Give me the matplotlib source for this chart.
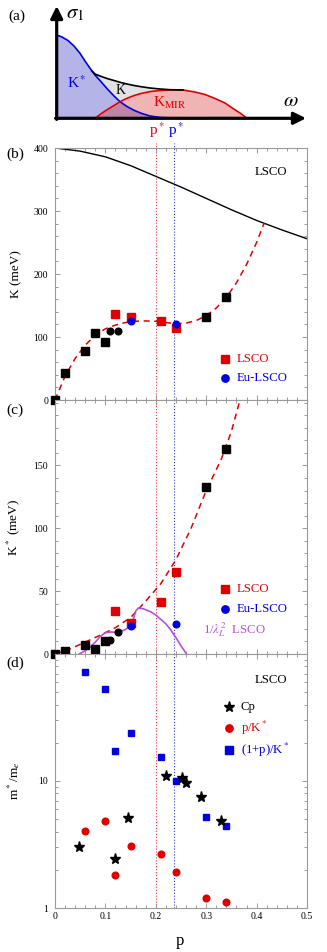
import numpy as np
import matplotlib
matplotlib.use("Agg")
import matplotlib.pyplot as plt
from matplotlib.ticker import MultipleLocator, LogLocator, NullFormatter, FixedLocator

plt.rcParams["font.family"] = "serif"
plt.rcParams["font.serif"] = ["Liberation Serif", "DejaVu Serif"]
plt.rcParams["mathtext.fontset"] = "stix"

RED = "#e00000"
BLUE = "#0000e0"
VIOLET = "#b84fd6"
LEG = 9.2

# ---- panel (a): schematic (pixel units) ----
sk_x = [56.7, 62, 68, 74, 80, 86, 92, 95, 100, 107, 114, 120, 127, 134, 141,
        150, 160, 170, 183, 195, 205, 215, 225, 233, 240, 247]
sk_blue = [35, 37, 40.5, 46, 53.3, 62.5, 71, 75, 80.5, 88.6, 96, 101.7, 106.5,
           110.3, 113.2, 116, 117.4, 118, 118.3, 118.3, 118.3, 118.3, 118.3,
           118.3, 118.3, 118.3]
nan = np.nan
sk_red = [nan, nan, nan, nan, nan, nan, nan, 118.3, 114.5, 109.8, 105.5, 101.7,
          98.3, 95.6, 93.5, 91.6, 90.5, 90, 90, 92, 94.5, 98.5, 103, 108.5,
          113, 118.3]
sk_black = [nan, nan, nan, nan, nan, nan, 71, 74, 76, 78.5, 80.5, 82.3, 84,
            85.5, 86.7, 88, 89, 89.7, 90, nan, nan, nan, nan, nan, nan, nan]

# ---- panel (b): K ----
b_line_p = [0, 0.05, 0.10, 0.15, 0.20, 0.25, 0.30, 0.35, 0.40, 0.45, 0.50]
b_line_k = [400, 395, 386, 372, 355, 338, 320, 302, 285, 270, 256]
b_fit_p = [0, 0.02, 0.04, 0.06, 0.08, 0.10, 0.12, 0.14, 0.16, 0.18, 0.20, 0.22,
           0.24, 0.26, 0.28, 0.30, 0.32, 0.34, 0.36, 0.38, 0.40, 0.415]
b_fit_k = [0, 38, 66, 87, 103, 113, 119, 123, 125, 125.5, 125, 123, 121, 122,
           126, 134, 146, 163, 186, 215, 250, 281]
b_sq_p = [0, 0.02, 0.06, 0.08, 0.10, 0.30, 0.34]
b_sq_k = [0, 43, 77, 107, 92, 132, 163]
b_ci_p = [0.11, 0.125]
b_ci_k = [110, 109]
b_lsco_p = [0.12, 0.15, 0.21, 0.24]
b_lsco_k = [136, 131, 126, 114]
b_eu_p = [0.15, 0.24]
b_eu_k = [125, 121]

# ---- panel (c): K* ----
c_fit_p = [0, 0.03, 0.06, 0.09, 0.12, 0.15, 0.18, 0.21, 0.24, 0.27, 0.30, 0.33,
           0.35, 0.367]
c_fit_k = [0, 4, 9.5, 15, 21, 29, 42, 56, 75, 100, 130, 155, 177, 202]
c_lam_p = [0.048, 0.06, 0.07, 0.08, 0.09, 0.10, 0.11, 0.12, 0.13, 0.14, 0.15,
           0.155, 0.16, 0.165, 0.175, 0.19, 0.20, 0.21, 0.22, 0.23, 0.24, 0.25,
           0.261]
c_lam_k = [0, 2.5, 5.5, 9.5, 14, 17, 17.5, 17.3, 18, 19.5, 22, 27, 34, 36.5,
           36, 33.5, 31, 27.5, 24, 19, 13, 6.5, 0]
c_sq_p = [0, 0.02, 0.06, 0.08, 0.10, 0.30, 0.34]
c_sq_k = [0, 2, 7.4, 4, 10, 133, 163]
c_ci_p = [0.11, 0.125]
c_ci_k = [11.4, 17.7]
c_lsco_p = [0.12, 0.15, 0.21, 0.24]
c_lsco_k = [34.4, 25, 41, 65.5]
c_eu_p = [0.15, 0.24]
c_eu_k = [22, 23.5]

# ---- panel (d): m*/me ----
d_cp_p = [0.048, 0.12, 0.145, 0.22, 0.251, 0.26, 0.289, 0.329]
d_cp_m = [3.03, 2.42, 5.09, 10.96, 10.6, 9.58, 7.42, 4.81]
d_pk_p = [0.06, 0.10, 0.12, 0.15, 0.21, 0.24, 0.30, 0.34]
d_pk_m = [4.03, 4.81, 1.82, 3.07, 2.67, 1.93, 1.2, 1.11]
d_1pk_p = [0.06, 0.10, 0.12, 0.15, 0.21, 0.24, 0.30, 0.34]
d_1pk_m = [72, 53.4, 17.1, 23.8, 15.4, 10, 5.24, 4.4]

p_star_red = 0.20
p_star_blue = 0.236

W, H = 327, 952
fig = plt.figure(figsize=(W / 100, H / 100), dpi=100)


def px_axes(x0, y0, x1, y1):
    return fig.add_axes([x0 / W, 1 - y1 / H, (x1 - x0) / W, (y1 - y0) / H])


def style(ax):
    for s in ax.spines.values():
        s.set_color("#9a9a9a")
        s.set_linewidth(0.8)
    ax.tick_params(which="both", direction="in", top=True, right=True,
                   color="#8a8a8a", width=0.6, labelsize=7)
    ax.tick_params(which="major", length=3.5)
    ax.tick_params(which="minor", length=2)
    ax.tick_params(axis="x", pad=3)
    ax.tick_params(axis="y", pad=5)
    ax.set_xlim(0, 0.5)
    ax.xaxis.set_major_locator(MultipleLocator(0.1))
    ax.xaxis.set_minor_locator(MultipleLocator(0.02))


def pstar_lines(ax, ymax=1.0):
    ax.axvline(p_star_red, ymax=ymax, color=RED, ls=":", lw=0.8, alpha=0.8,
               clip_on=False, zorder=1)
    ax.axvline(p_star_blue, ymax=ymax, color=BLUE, ls=":", lw=0.8, alpha=0.8,
               clip_on=False, zorder=1)


# ---------------- (a) ----------------
axa = px_axes(0, 0, W, 135)
axa.set_xlim(0, W)
axa.set_ylim(135, 0)
axa.axis("off")
x = np.array(sk_x)
blue = np.array(sk_blue)
red = np.array(sk_red)
black = np.array(sk_black)
base = 118.3
axa.fill_between(x, blue, base, color="#4d4dcc", alpha=0.42, lw=0)
ok = ~np.isnan(red)
axa.fill_between(x[ok], red[ok], base, color="#d83030", alpha=0.36, lw=0)
okb = ~np.isnan(black)
axa.fill_between(x[okb], black[okb], np.fmin(blue[okb], red[okb]),
                 color="#e2e2e2", lw=0)
axa.plot(x[x <= 205], blue[x <= 205], color=BLUE, lw=1.2)
axa.plot(x[ok], red[ok], color=RED, lw=1.2)
axa.plot(x[okb], black[okb], color="black", lw=1.2)
arrow = dict(arrowstyle="-|>", lw=2.3, color="black", mutation_scale=18,
             shrinkA=0, shrinkB=0)
axa.annotate("", xy=(306, base), xytext=(55.6, base), arrowprops=arrow)
axa.annotate("", xy=(56.7, 6), xytext=(56.7, base + 1.1), arrowprops=arrow)
axa.text(17, 16, "(a)", fontsize=11, ha="center", va="center")
axa.text(66, 14, r"$\sigma_1$", fontsize=15, ha="left", va="center")
axa.text(291, 101, r"$\omega$", fontsize=15, ha="center", va="center")
axa.text(77, 83, r"K$^*$", fontsize=11, color=BLUE, ha="center", va="center")
axa.text(121, 90, "K", fontsize=10, color="black", ha="center", va="center")
axa.text(170, 103, r"K$_{\rm MIR}$", fontsize=11, color=RED, ha="center",
         va="center")

# ---------------- (b) ----------------
axb = px_axes(55, 148, 307, 400)
style(axb)
axb.set_ylim(0, 400)
axb.yaxis.set_major_locator(MultipleLocator(100))
axb.yaxis.set_minor_locator(MultipleLocator(20))
axb.tick_params(labelbottom=False)
pstar_lines(axb, ymax=1.02)
axb.plot(b_line_p, b_line_k, color="black", lw=1.0)
axb.plot(b_fit_p, b_fit_k, color=RED, lw=1.1, ls=(0, (4, 3)))
axb.plot(b_sq_p, b_sq_k, "s", color="black", ms=5.3, clip_on=False, zorder=5)
axb.plot(b_ci_p, b_ci_k, "o", color="black", ms=4.8, zorder=5)
axb.plot(b_lsco_p, b_lsco_k, "s", color=RED, ms=5.3, zorder=5)
axb.plot(b_eu_p, b_eu_k, "o", color=BLUE, ms=4.8, zorder=6)
axb.set_ylabel("K (meV)", fontsize=9.5)
axb.yaxis.set_label_coords(-0.13, 0.5)
axb.text(0.857, 0.906, "LSCO", transform=axb.transAxes, fontsize=LEG,
         ha="center", va="center")
axb.plot([0.675], [0.163], "s", color=RED, ms=5.3, transform=axb.transAxes)
axb.text(0.722, 0.163, "LSCO", transform=axb.transAxes, fontsize=LEG,
         color=RED, va="center")
axb.plot([0.675], [0.087], "o", color=BLUE, ms=5.3, transform=axb.transAxes)
axb.text(0.722, 0.087, "Eu-LSCO", transform=axb.transAxes, fontsize=LEG,
         color=BLUE, va="center")
axb.text(p_star_red + 0.003, 1.03, r"p$^*$", transform=axb.get_xaxis_transform(),
         color=RED, fontsize=11, ha="center", va="bottom")
axb.text(p_star_blue + 0.005, 1.03, r"p$^*$", transform=axb.get_xaxis_transform(),
         color=BLUE, fontsize=11, ha="center", va="bottom")

# ---------------- (c) ----------------
axc = px_axes(55, 400, 307, 654)
style(axc)
axc.set_ylim(0, 202)
axc.yaxis.set_major_locator(FixedLocator([0, 50, 100, 150]))
axc.yaxis.set_minor_locator(MultipleLocator(10))
axc.tick_params(labelbottom=False)
pstar_lines(axc)
axc.plot(c_fit_p, c_fit_k, color=RED, lw=1.1, ls=(0, (4, 3)))
axc.plot(c_lam_p, c_lam_k, color=VIOLET, lw=1.2)
axc.plot(c_sq_p, c_sq_k, "s", color="black", ms=5.3, clip_on=False, zorder=5)
axc.plot(c_ci_p, c_ci_k, "o", color="black", ms=4.8, zorder=5)
axc.plot(c_lsco_p, c_lsco_k, "s", color=RED, ms=5.3, zorder=5)
axc.plot(c_eu_p, c_eu_k, "o", color=BLUE, ms=4.8, zorder=6)
axc.set_ylabel(r"K$^*$ (meV)", fontsize=9.5)
axc.yaxis.set_label_coords(-0.13, 0.5)
axc.plot([0.675], [0.256], "s", color=RED, ms=5.3, transform=axc.transAxes)
axc.text(0.722, 0.256, "LSCO", transform=axc.transAxes, fontsize=LEG,
         color=RED, va="center")
axc.plot([0.675], [0.177], "o", color=BLUE, ms=5.3, transform=axc.transAxes)
axc.text(0.722, 0.177, "Eu-LSCO", transform=axc.transAxes, fontsize=LEG,
         color=BLUE, va="center")
axc.text(0.587, 0.094, r"1/$\lambda_L^2$  LSCO", transform=axc.transAxes,
         fontsize=LEG, color=VIOLET, va="center")

# ---------------- (d) ----------------
axd = px_axes(55, 654, 307, 908)
style(axd)
axd.set_yscale("log")
axd.set_ylim(1, 100)
axd.yaxis.set_major_locator(FixedLocator([1, 10]))
axd.yaxis.set_minor_locator(LogLocator(base=10, subs=np.arange(2, 10)))
axd.yaxis.set_minor_formatter(NullFormatter())
axd.set_yticklabels(["1", "10"])
pstar_lines(axd)
axd.plot(d_pk_p, d_pk_m, "o", color=RED, ms=4.8, zorder=5)
axd.plot(d_1pk_p, d_1pk_m, "s", color=BLUE, ms=4.8, zorder=5)
axd.plot(d_cp_p, d_cp_m, "*", color="black", ms=8, zorder=6)
axd.set_xticks([0, 0.1, 0.2, 0.3, 0.4, 0.5])
axd.set_xticklabels(["0", "0.1", "0.2", "0.3", "0.4", "0.5"])
axd.set_ylabel(r"m$^*$/m$_e$", fontsize=9.5)
axd.yaxis.set_label_coords(-0.13, 0.5)
axd.set_xlabel("p", fontsize=12)
axd.xaxis.set_label_coords(0.496, -0.098)
axd.text(0.857, 0.898, "LSCO", transform=axd.transAxes, fontsize=LEG,
         ha="center", va="center")
axd.plot([0.69], [0.791], "*", color="black", ms=8, transform=axd.transAxes)
axd.text(0.738, 0.791, "Cp", transform=axd.transAxes, fontsize=LEG,
         color="black", va="center")
axd.plot([0.69], [0.709], "o", color=RED, ms=5.3, transform=axd.transAxes)
axd.text(0.738, 0.709, r"p/K$^*$", transform=axd.transAxes, fontsize=LEG,
         color=RED, va="center")
axd.plot([0.69], [0.622], "s", color=BLUE, ms=5.3, transform=axd.transAxes)
axd.text(0.738, 0.622, r"(1+p)/K$^*$", transform=axd.transAxes, fontsize=LEG,
         color=BLUE, va="center")

for lab, yy in [("(b)", 154), ("(c)", 410), ("(d)", 663)]:
    fig.text(15 / W, 1 - yy / H, lab, fontsize=11, ha="center", va="center")

fig.savefig("out.png", dpi=100)
